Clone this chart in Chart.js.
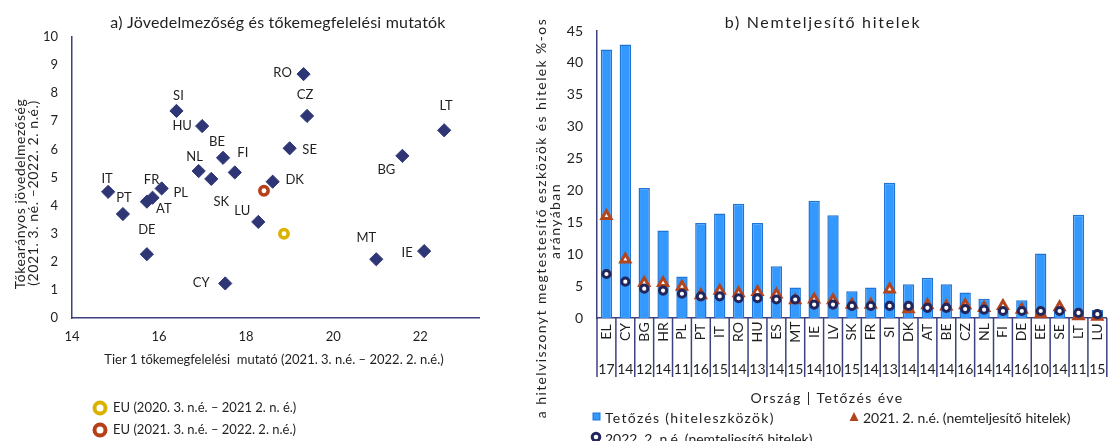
<!DOCTYPE html>
<html lang="hu">
<head>
<meta charset="utf-8">
<script src="https://cdn.jsdelivr.net/npm/chart.js@4.4.1/dist/chart.umd.min.js"></script>
<style>
  html, body { margin: 0; padding: 0; background: #fff; }
  #wrap { position: relative; width: 1115px; height: 441px; overflow: hidden; }
  #left { position: absolute; left: 0; top: 0; }
  #right { position: absolute; left: 530px; top: 0; }
</style>
</head>
<body>
<div id="wrap">
  <canvas id="left" width="530" height="441"></canvas>
  <canvas id="right" width="585" height="441"></canvas>
</div>
<script>
// a) panel – országok
const countries = ['RO', 'SI', 'HU', 'CZ', 'LT', 'SE', 'BE', 'FI', 'NL', 'SK', 'BG', 'DK', 'IT', 'FR', 'PL', 'AT', 'PT', 'DE', 'LU', 'CY', 'MT', 'IE']
const tier1 = [19.32, 16.40, 16.99, 19.40, 22.55, 19.00, 17.47, 17.74, 16.91, 17.20, 21.59, 18.61, 14.83, 15.85, 16.06, 15.72, 15.17, 15.72, 18.28, 17.52, 20.99, 22.09]
const roe = [8.68, 7.37, 6.83, 7.19, 6.68, 6.04, 5.70, 5.18, 5.23, 4.95, 5.77, 4.85, 4.49, 4.28, 4.61, 4.14, 3.70, 2.27, 3.42, 1.23, 2.09, 2.38]
const euPrev = [{ x: 18.87, y: 3.00 }]
const euCurr = [{ x: 18.41, y: 4.53 }]

// b) panel – nemteljesítő hitelek
const codes = ['EL', 'CY', 'BG', 'HR', 'PL', 'PT', 'IT', 'RO', 'HU', 'ES', 'MT', 'IE', 'LV', 'SK', 'FR', 'SI', 'DK', 'AT', 'BE', 'CZ', 'NL', 'FI', 'DE', 'EE', 'SE', 'LT', 'LU']
const peakYears = ['17', '14', '12', '14', '11', '16', '15', '14', '13', '14', '15', '14', '10', '15', '14', '13', '14', '14', '14', '16', '14', '14', '16', '10', '14', '11', '15']
const peakNpl = [42.1, 42.9, 20.4, 13.7, 6.5, 14.9, 16.4, 17.9, 14.9, 8.1, 4.8, 18.4, 16.1, 4.2, 4.8, 21.2, 5.3, 6.3, 5.3, 4.0, 3.0, 1.6, 2.8, 10.1, 1.5, 16.2, 1.3]
const npl2021 = [16.0, 9.2, 5.5, 5.5, 4.9, 3.6, 4.3, 3.9, 4.1, 3.7, 2.8, 2.9, 2.8, 2.1, 2.1, 4.5, 1.4, 2.0, 1.8, 2.0, 1.6, 1.9, 1.3, 0.6, 1.7, 0.3, 0.2]
const npl2022 = [6.9, 5.7, 4.6, 4.3, 3.8, 3.4, 3.4, 3.1, 3.1, 2.9, 2.9, 2.1, 2.1, 1.9, 1.9, 1.9, 1.9, 1.6, 1.6, 1.4, 1.3, 1.1, 1.1, 1.1, 1.1, 0.8, 0.6]

const FONT = 'Lato, "Open Sans", sans-serif'
const TEXT = '#1f1f1f'
const NAVY = '#2f3676'
const AXIS = '#3d4180'
const BLUE = '#3399ff'
const BROWN = '#b3441c'
const GOLD = '#dcb200'
const RUST = '#b5401a'
const DARK = '#23265a'

Chart.defaults.font.family = FONT
Chart.defaults.font.size = 13
Chart.defaults.color = TEXT

// címkék eltolása a pontokhoz képest (px)
const labelOffsets = {
  RO: [-21, -1], SI: [2, -15], HU: [-20, 0], CZ: [-2, -21], LT: [2, -24], SE: [20, 2],
  BE: [-6, -16], FI: [8, -20], NL: [-4, -14], SK: [10, 23], BG: [-16, 14], DK: [22, -2],
  IT: [-1, -13], FR: [-1, -18], PL: [19, 4], AT: [17, 7], PT: [1, -16], DE: [0, -24],
  LU: [-16, -11], CY: [-24, -1], MT: [-10, -21], IE: [-17, 2]
}

function txt (ctx, s, x, y, opts = {}) {
  ctx.save()
  ctx.font = `${opts.size || 13}px ${FONT}`
  ctx.fillStyle = opts.color || TEXT
  ctx.textAlign = opts.align || 'center'
  ctx.textBaseline = 'middle'
  ctx.letterSpacing = (opts.ls || 0) + 'px'
  ctx.translate(x, y)
  if (opts.rotate) ctx.rotate(opts.rotate)
  ctx.fillText(s, 0, 0)
  ctx.restore()
}

function ring (ctx, x, y, r, w, color) {
  ctx.save()
  ctx.beginPath()
  ctx.arc(x, y, r, 0, Math.PI * 2)
  ctx.fillStyle = '#fff'
  ctx.fill()
  ctx.lineWidth = w
  ctx.strokeStyle = color
  ctx.stroke()
  ctx.restore()
}

const leftExtras = {
  id: 'leftExtras',
  afterDraw (chart) {
    const { ctx, scales: { x, y } } = chart
    countries.forEach((c, i) => {
      const [dx, dy] = labelOffsets[c]
      txt(ctx, c, x.getPixelForValue(tier1[i]) + dx, y.getPixelForValue(roe[i]) + dy)
    })
    txt(ctx, 'a) Jövedelmezőség és tőkemegfelelési mutatók', 278, 23, { size: 16, ls: 0.2 })
    txt(ctx, 'Tőkearányos jövedelmezőség', 20, 194, { size: 14, ls: 0.5, rotate: -Math.PI / 2 })
    txt(ctx, '(2021. 3. né. –2022. 2. n.é.)', 33, 193, { size: 14, ls: 0.6, rotate: -Math.PI / 2 })
    txt(ctx, 'Tier 1 tőkemegfelelési  mutató (2021. 3. n.é. – 2022. 2. n.é.)', 274, 360)

    ring(ctx, 100, 408, 5.5, 4, GOLD)
    txt(ctx, 'EU (2020. 3. n.é. – 2021 2. n. é.)', 113, 408, { align: 'left' })
    ring(ctx, 100, 430, 5.5, 4, RUST)
    txt(ctx, 'EU (2021. 3. n.é. – 2022. 2. n.é.)', 113, 430, { align: 'left' })
  }
}

new Chart(document.getElementById('left'), {
  type: 'scatter',
  data: {
    datasets: [
      {
        label: 'EU (2021. 3. n.é. – 2022. 2. n.é.)',
        data: euCurr,
        pointStyle: 'circle',
        pointRadius: 4.2,
        pointBorderWidth: 3.5,
        pointBackgroundColor: '#fff',
        pointBorderColor: RUST
      },
      {
        label: 'EU (2020. 3. n.é. – 2021 2. n. é.)',
        data: euPrev,
        pointStyle: 'circle',
        pointRadius: 4.2,
        pointBorderWidth: 3.5,
        pointBackgroundColor: '#fff',
        pointBorderColor: GOLD
      },
      {
        label: 'Országok',
        data: countries.map((c, i) => ({ x: tier1[i], y: roe[i] })),
        pointStyle: 'rectRot',
        pointRadius: 6.6,
        pointBorderWidth: 1,
        pointBackgroundColor: NAVY,
        pointBorderColor: NAVY
      }
    ]
  },
  options: {
    responsive: false,
    animation: false,
    layout: { padding: { top: 37, right: 51, left: 0, bottom: 0 } },
    plugins: { legend: { display: false }, tooltip: { enabled: false } },
    scales: {
      x: {
        type: 'linear',
        min: 14,
        max: 23.35,
        ticks: { stepSize: 2, includeBounds: false, padding: 11 },
        grid: { display: false, drawTicks: false },
        border: { color: AXIS, width: 1.5 },
        afterFit: s => { s.height = 123 }
      },
      y: {
        min: 0,
        max: 10,
        ticks: { stepSize: 1, padding: 14 },
        grid: { display: false, drawTicks: false },
        border: { color: AXIS, width: 1.5 },
        afterFit: s => { s.width = 72 }
      }
    }
  },
  plugins: [leftExtras]
})

const rightExtras = {
  id: 'rightExtras',
  afterDraw (chart) {
    const { ctx, chartArea, scales: { x } } = chart
    const n = codes.length
    const step = x.width / n
    const bottom = chartArea.bottom

    ctx.save()
    ctx.strokeStyle = AXIS
    ctx.lineWidth = 1.5
    for (let i = 0; i <= n; i++) {
      const px = i < n ? x.getPixelForValue(i) - step / 2 : x.getPixelForValue(n - 1) + step / 2
      ctx.beginPath()
      ctx.moveTo(px, bottom)
      ctx.lineTo(px, bottom + 59)
      ctx.stroke()
    }
    ctx.restore()

    codes.forEach((c, i) => {
      const cx = x.getPixelForValue(i)
      txt(ctx, c, cx, bottom + 14, { size: 14, rotate: -Math.PI / 2 })
      txt(ctx, peakYears[i], cx, bottom + 51, { size: 14 })
    })

    const ox = -530
    txt(ctx, 'b) Nemteljesítő hitelek', 823 + ox, 23, { size: 16, ls: 1.7 })
    txt(ctx, 'a hitelviszonyt megtestesítő eszközök és hitelek %-os', 541 + ox, 218, { size: 14, ls: 1.4, rotate: -Math.PI / 2 })
    txt(ctx, 'arányában', 555 + ox, 221, { size: 14, ls: 1.4, rotate: -Math.PI / 2 })
    txt(ctx, 'Ország | Tetőzés éve', 827 + ox, 398, { size: 14, ls: 1.4 })

    // jelmagyarázat
    ctx.save()
    ctx.fillStyle = BLUE
    ctx.strokeStyle = '#1f74d6'
    ctx.lineWidth = 1
    ctx.fillRect(593 + ox, 413, 7, 7)
    ctx.strokeRect(593 + ox, 413, 7, 7)
    ctx.beginPath()
    ctx.moveTo(854 + ox, 412)
    ctx.lineTo(858.5 + ox, 421)
    ctx.lineTo(849.5 + ox, 421)
    ctx.closePath()
    ctx.fillStyle = BROWN
    ctx.fill()
    ctx.restore()
    txt(ctx, 'Tetőzés (hiteleszközök)', 605 + ox, 418, { size: 14, ls: 1.3, align: 'left' })
    txt(ctx, '2021. 2. n.é. (nemteljesítő hitelek)', 863 + ox, 418, { size: 14, align: 'left' })
    ring(ctx, 596 + ox, 437, 3.8, 3, DARK)
    txt(ctx, '2022. 2. n.é. (nemteljesítő hitelek)', 605 + ox, 439, { size: 14, align: 'left' })
  }
}

new Chart(document.getElementById('right'), {
  type: 'bar',
  data: {
    labels: codes,
    datasets: [
      {
        type: 'line',
        label: '2022. 2. n.é. (nemteljesítő hitelek)',
        data: npl2022,
        showLine: false,
        pointStyle: 'circle',
        pointRadius: 3.6,
        pointBorderWidth: 3,
        pointBackgroundColor: '#fff',
        pointBorderColor: DARK,
        order: 1,
        clip: false
      },
      {
        type: 'line',
        label: '2021. 2. n.é. (nemteljesítő hitelek)',
        data: npl2021,
        showLine: false,
        pointStyle: 'triangle',
        pointRadius: 5.2,
        pointBorderWidth: 3,
        pointBackgroundColor: '#fff',
        pointBorderColor: BROWN,
        order: 2,
        clip: false
      },
      {
        label: 'Tetőzés (hiteleszközök)',
        data: peakNpl,
        backgroundColor: BLUE,
        borderColor: '#1f74d6',
        borderWidth: 1.5,
        barPercentage: 0.6,
        categoryPercentage: 1,
        order: 3
      }
    ]
  },
  options: {
    responsive: false,
    animation: false,
    layout: { padding: { top: 31, right: 0, left: 0, bottom: 0 } },
    plugins: { legend: { display: false }, tooltip: { enabled: false } },
    scales: {
      x: {
        grid: { display: false, drawTicks: false },
        ticks: { display: false },
        border: { color: AXIS, width: 1.5 },
        afterFit: s => { s.height = 123 }
      },
      y: {
        min: 0,
        max: 45,
        ticks: { stepSize: 5, padding: 14, font: { size: 14 } },
        grid: { display: false, drawTicks: false },
        border: { color: AXIS, width: 1.5 },
        afterFit: s => { s.width = 67 }
      }
    }
  },
  plugins: [rightExtras]
})
</script>
</body>
</html>
